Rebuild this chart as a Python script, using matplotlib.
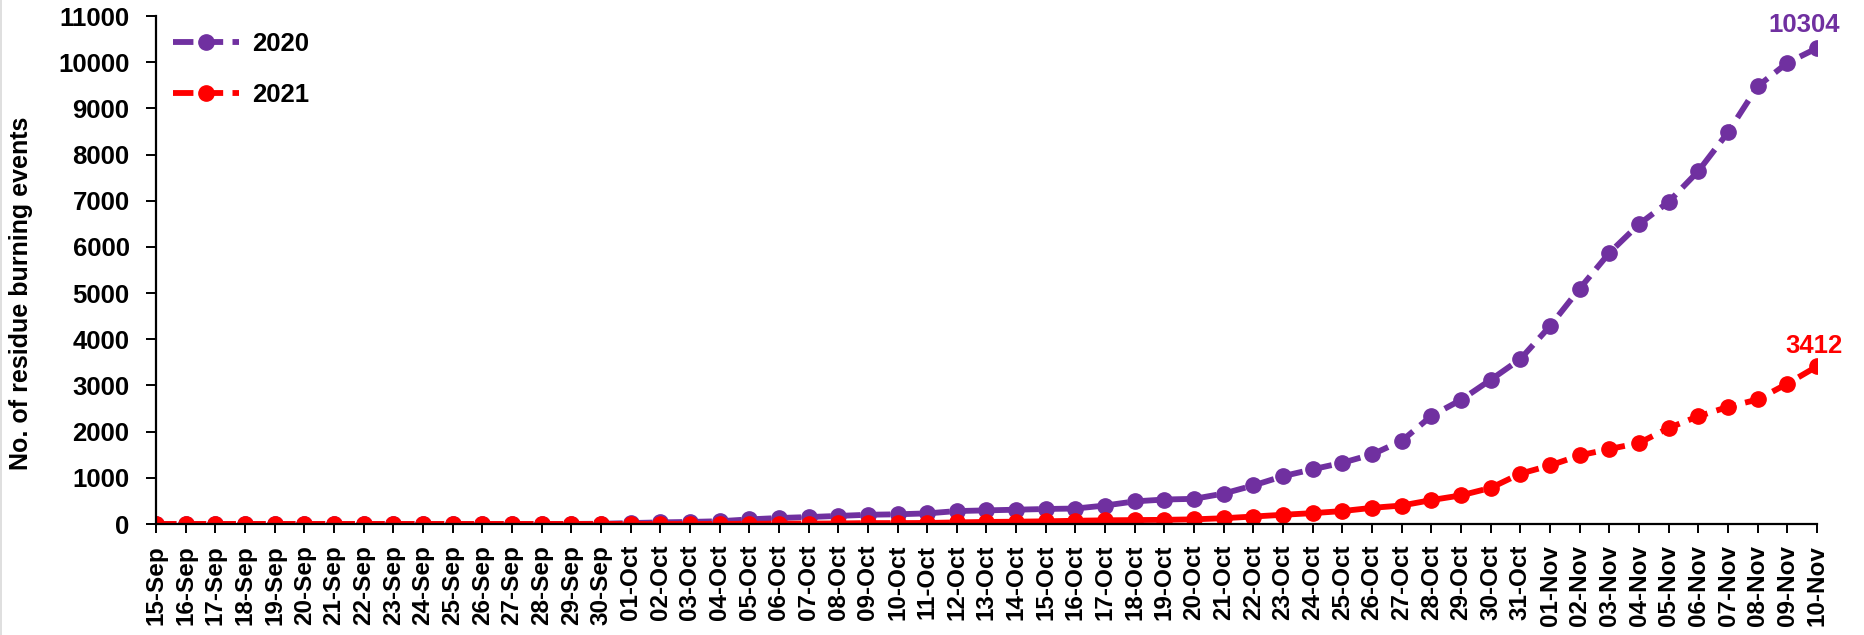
import matplotlib
matplotlib.use("Agg")
import matplotlib.pyplot as plt
from matplotlib.lines import Line2D

dates = (["%02d-Sep" % d for d in range(15, 31)] +
         ["%02d-Oct" % d for d in range(1, 32)] +
         ["%02d-Nov" % d for d in range(1, 11)])

y2020 = [0, 0, 0, 0, 0, 0, 0, 0, 0, 0, 0, 0, 0, 0, 2, 5,
         20, 35, 45, 60, 100, 130, 150, 175, 200, 210, 230, 280, 295, 310, 325,
         335, 400, 490, 530, 545, 660, 835, 1036, 1185, 1326, 1507, 1800, 2341, 2688, 3123, 3572,
         4286, 5098, 5872, 6492, 6977, 7642, 8482, 9479, 9985, 10304]

y2021 = [0, 0, 0, 0, 0, 0, 0, 0, 0, 0, 0, 0, 0, 0, 0, 0,
         0, 0, 0, 2, 5, 8, 10, 12, 20, 20, 22, 35, 45, 50, 58,
         70, 80, 85, 90, 101, 125, 162, 200, 235, 280, 350, 400, 518, 620, 782, 1090,
         1268, 1486, 1623, 1754, 2080, 2333, 2536, 2696, 3038, 3412]

yticks = list(range(0, 11001, 1000))

PURPLE = "#7030A0"
RED = "#FF0000"
FONT = ["Liberation Sans", "DejaVu Sans"]

W, H = 1865, 635
fig = plt.figure(figsize=(W / 100, H / 100), dpi=100)
ax = fig.add_axes([156 / W, 1 - 524 / H, (1817 - 156) / W, (524 - 16) / H])

x = list(range(len(dates)))
common = dict(linestyle=(0, (3.5, 1.6)), linewidth=4.2, marker="o", markersize=11)
ax.plot(x, y2020, color=PURPLE, label="2020", **common)
ax.plot(x, y2021, color=RED, label="2021", **common)

ax.set_xlim(0, len(dates) - 1)
ax.set_ylim(0, 11000)
ax.set_yticks(yticks)
ax.set_yticklabels([str(v) for v in yticks], fontfamily=FONT,
                   fontweight="bold", fontsize=18.5)
ax.set_xticks(x)
ax.set_xticklabels(dates, rotation=90, fontfamily=FONT,
                   fontweight="bold", fontsize=17.5)

for s in ["top", "right"]:
    ax.spines[s].set_visible(False)
for s in ["left", "bottom"]:
    ax.spines[s].set_linewidth(1.6)
    ax.spines[s].set_color("black")
ax.tick_params(axis="y", direction="out", length=7, width=1.4, pad=12)
ax.tick_params(axis="x", direction="out", length=6.5, width=1.4, pad=8.5)

fig.text(21 / W, 1 - 293 / H, "No. of residue burning events", rotation=90,
         ha="center", va="center", fontfamily=FONT,
         fontweight="bold", fontsize=18)

leg = ax.legend(loc="upper left", bbox_to_anchor=(173 / W, 1 - 32 / H),
                bbox_transform=fig.transFigure, frameon=False,
                borderaxespad=0, borderpad=0, handlelength=2.57,
                handletextpad=0.5, labelspacing=1.07,
                prop=dict(family=FONT, weight="bold", size=18.5))

ax.annotate(str(y2020[-1]), (x[-1], y2020[-1]), xytext=(-9, 11.5),
            textcoords="offset points", ha="center", va="baseline",
            color=PURPLE, fontfamily=FONT, fontweight="bold",
            fontsize=18.5, annotation_clip=False)
ax.annotate(str(y2021[-1]), (x[-1], y2021[-1]), xytext=(-2, 9.5),
            textcoords="offset points", ha="center", va="baseline",
            color=RED, fontfamily=FONT, fontweight="bold",
            fontsize=18.5, annotation_clip=False)

fig.add_artist(Line2D([1.5 / W, 1.5 / W], [0, 1], transform=fig.transFigure,
                      color="#d9d9d9", linewidth=1.2))

fig.savefig("out.png", dpi=100)
